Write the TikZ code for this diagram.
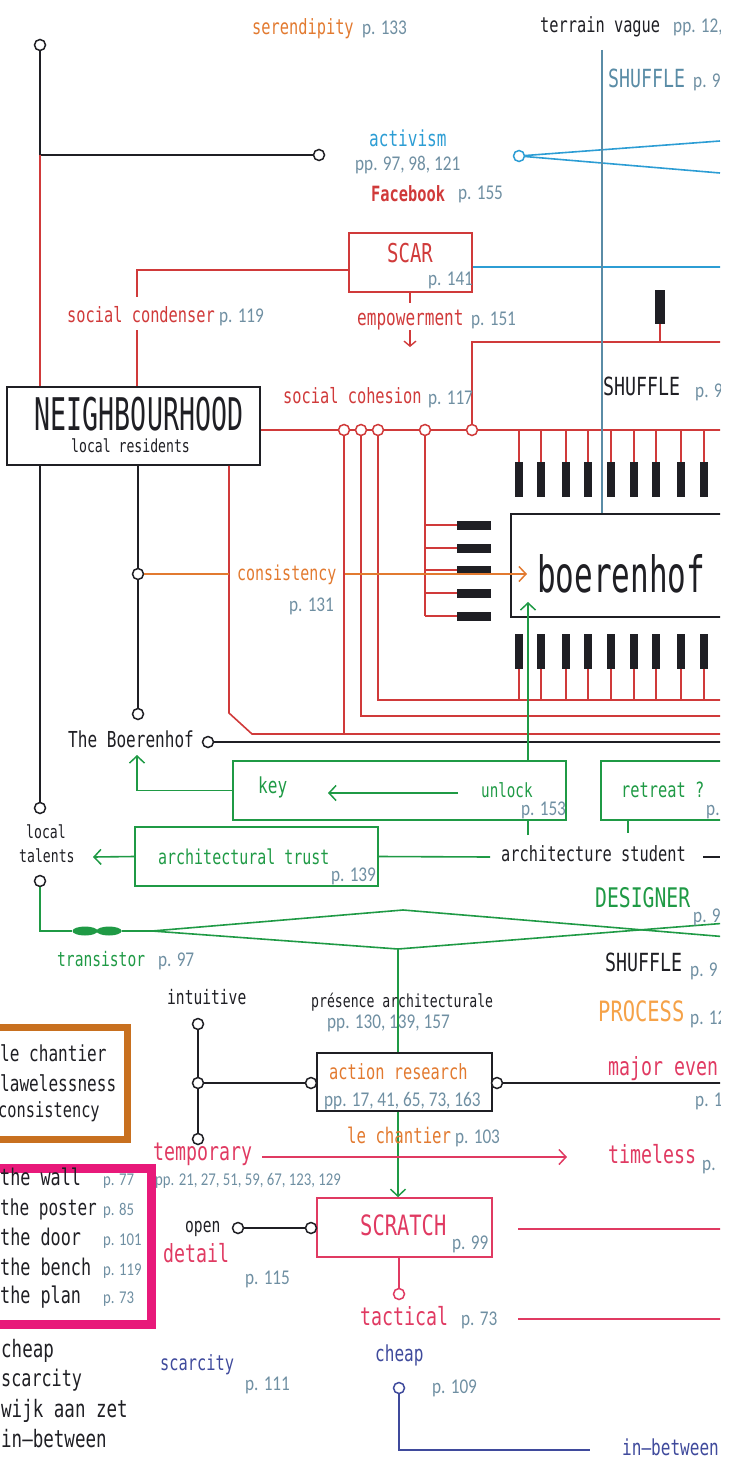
\documentclass[tikz,border=0pt]{standalone}
\usepackage{fontspec}
\usepackage{graphicx}
\setmainfont{DejaVu Sans Mono}[FakeStretch=0.73]
\newfontfamily\pgfont{Carlito}[FakeStretch=0.82]
\usetikzlibrary{arrows.meta,shapes.geometric}

\definecolor{inkc}{HTML}{1F1F24}
\definecolor{redc}{HTML}{D03A3A}
\definecolor{pinkc}{HTML}{E03A62}
\definecolor{orangec}{HTML}{E27A30}
\definecolor{procc}{HTML}{F5A248}
\definecolor{actblue}{HTML}{2C9DD4}
\definecolor{steelc}{HTML}{5A8CA6}
\definecolor{pgc}{HTML}{6F8FA2}
\definecolor{greenc}{HTML}{1F9A45}
\definecolor{navyc}{HTML}{3F4A9C}
\definecolor{boxorange}{HTML}{C8701F}
\definecolor{magentac}{HTML}{E8197A}

\tikzset{
  lbl/.style={inner sep=0pt, anchor=base west, text=inkc, font=\fontsize{#1}{#1}\selectfont},
  lbl/.default=22,
  pg/.style={inner sep=0pt, anchor=base west, text=pgc, font=\pgfont\fontsize{21}{21}\selectfont},
  pgsmall/.style={pg, font=\pgfont\fontsize{18}{18}\selectfont},
  ring/.style={circle, draw=#1, fill=white, minimum size=11pt, inner sep=0pt, line width=1.5pt},
  ring/.default=inkc,
  wire/.style={line width=1.6pt},
  boxframe/.style={draw=#1, line width=1.6pt, inner sep=0pt},
  topkey/.style={fill=inkc, inner sep=0pt, minimum width=8pt, minimum height=35pt},
  sidekey/.style={fill=inkc, inner sep=0pt, minimum width=34pt, minimum height=9pt},
  barb/.style={-{Straight Barb[length=7pt,width=15pt,line width=1.5pt]}},
}

\begin{document}
\begin{tikzpicture}[x=1pt,y=-1pt]
\useasboundingbox (0,0) rectangle (734,1463);
\clip (0,0) rectangle (720,1463);

% ---------- boxes ----------
\node[boxframe=inkc, minimum width=253pt, minimum height=78pt] (nb) at (133.5,426) {};
\node[boxframe=redc, minimum width=123pt, minimum height=59pt] (scar) at (410.5,262.5) {};
\node[boxframe=inkc, minimum width=260pt, minimum height=103pt] (bh) at (641,565.5) {};
\node[boxframe=greenc, minimum width=333pt, minimum height=59pt] (keyb) at (399.5,790.5) {};
\node[boxframe=greenc, minimum width=160pt, minimum height=59pt] (retreat) at (681,790.5) {};
\node[boxframe=greenc, minimum width=243pt, minimum height=59pt] (trust) at (256.5,856.5) {};
\node[boxframe=inkc, minimum width=175pt, minimum height=58pt] (ar) at (404.5,1082) {};
\node[boxframe=pinkc, minimum width=175pt, minimum height=59pt] (scratch) at (404.5,1227.5) {};
\node[draw=boxorange, line width=7pt, minimum width=140pt, minimum height=112pt, inner sep=0pt] (obox) at (57,1083.5) {};
\node[draw=magentac, line width=9pt, minimum width=165pt, minimum height=156pt, inner sep=0pt] (pbox) at (68.5,1246) {};

% ---------- rings ----------
\node[ring] (tl) at (40,45) {};
\node[ring] (ser) at (319,155) {};
\node[ring=actblue] (act) at (519,156) {};
\node[ring=redc] (r1) at (344,430) {};
\node[ring=redc] (r2) at (361,430) {};
\node[ring=redc] (r3) at (378,430) {};
\node[ring=redc] (r4) at (425,430) {};
\node[ring=redc] (r5) at (472,430) {};
\node[ring] (c1) at (138,574) {};
\node[ring] (tb) at (138,714) {};
\node[ring] (tbo) at (208,742) {};
\node[ring] (lt1) at (40,808) {};
\node[ring] (lt2) at (40,881) {};
\node[ring] (i1) at (198,1024) {};
\node[ring] (i2) at (198,1083) {};
\node[ring] (i3) at (198,1139) {};
\node[ring] (i4) at (311,1083) {};
\node[ring] (i5) at (497,1083) {};
\node[ring] (o1) at (238,1228) {};
\node[ring] (o2) at (311,1228) {};
\node[ring=pinkc] (t1) at (399,1294) {};
\node[ring=navyc] (ch) at (399,1388) {};

% ---------- free ends ----------
\coordinate (redEnd) at (740,430);
\coordinate (tlj) at (40,155);
\coordinate (a1) at (720,141);
\coordinate (a2) at (720,173);
\coordinate (blueEnd) at (740,267);
\coordinate (stTop) at (602,50);
\coordinate (sc1) at (137,270);
\coordinate (scg1) at (137,297);
\coordinate (scg2) at (137,330);
\coordinate (emp1) at (410,303);
\coordinate (ea1) at (410,330);
\coordinate (ea2) at (410,347);
\coordinate (r5top) at (472,342);
\coordinate (bline) at (378,700);
\coordinate (l2) at (361,716);
\coordinate (l1) at (344,734);
\coordinate (nbR) at (229,713);
\coordinate (l1bend) at (252,734);
\coordinate (cs1) at (229,574);
\coordinate (cs2) at (345,574);
\coordinate (cs3) at (527,574);
\coordinate (kArrA) at (458,793);
\coordinate (kArrB) at (328,793);
\coordinate (kup) at (137,755);
\coordinate (stu) at (528,835);
\coordinate (bhin) at (528,602);
\coordinate (rt) at (628,833);
\coordinate (trEnd) at (490,857);
\coordinate (ltArr) at (93,857);
\coordinate (dashA) at (703,857);
\coordinate (dashB) at (720,857);
\coordinate (tr0) at (40,931);
\coordinate (dj) at (152,931);
\coordinate (dtop) at (403,910);
\coordinate (dbot) at (398,949);
\coordinate (dR1) at (740,938);
\coordinate (dR2) at (740,922);
\coordinate (sl) at (518,1229);
\coordinate (tl2) at (518,1319);
\coordinate (tmA) at (262,1157);
\coordinate (tmB) at (567,1157);
\coordinate (cb) at (399,1450);
\coordinate (cbe) at (590,1450);

% ---------- top left ----------
\draw[wire,inkc] (tl) -- (tlj) -- (ser);
\draw[wire,redc] (tlj) -- (tlj |- nb.north);

% ---------- blue family ----------
\draw[wire,actblue] (act) -- (a1);
\draw[wire,actblue] (act) -- (a2);
\draw[wire,actblue] (scar.east |- blueEnd) -- (blueEnd);

% ---------- red network ----------
\draw[wire,redc] (scar.west |- sc1) -- (sc1) -- (scg1);
\draw[wire,redc] (scg2) -- (scg2 |- nb.north);
\draw[wire,redc] (scar.south -| emp1) -- (emp1);
\draw[wire,redc,-{Straight Barb[length=5pt,width=12pt,line width=1.4pt]}] (ea1) -- (ea2);
\draw[wire,redc] (nb.east |- r1) -- (r1) -- (r2) -- (r3) -- (r4) -- (r5) -- (redEnd);
\draw[wire,redc] (r5) -- (r5top) -- (r5top -| redEnd);
\node[fill=inkc, inner sep=0pt, minimum width=10pt, minimum height=34pt] (tab) at (660,307) {};
\draw[wire,redc] (tab.south) -- (tab.south |- r5top);

\foreach \x [count=\i] in {519,541,566,588,611,634,656,681,704} {
  \node[topkey] (tk\i) at (\x,479.5) {};
  \draw[wire,redc] (tk\i.north |- r1) -- (tk\i.north);
  \node[topkey] (bk\i) at (\x,651.5) {};
  \draw[wire,redc] (bk\i.south) -- (bk\i.south |- bline);
}
\foreach \y [count=\i] in {525,548,570,593,616} {
  \node[sidekey] (sk\i) at (474,\y) {};
  \draw[wire,redc] (sk\i.west -| r4) -- (sk\i.west);
}
\draw[wire,redc] (r4) -- (r4 |- sk5.west);
\draw[wire,redc] (r3) -- (r3 |- bline) -- (bline -| redEnd);
\draw[wire,redc] (r2) -- (r2 |- l2) -- (l2 -| redEnd);
\draw[wire,redc] (r1) -- (r1 |- l1);
\draw[wire,redc] (nb.south -| nbR) -- (nbR) -- (l1bend) -- (l1 -| redEnd);

% ---------- steel line ----------
\draw[wire,steelc] (stTop) -- (stTop |- bh.north);

% ---------- black verticals ----------
\draw[wire,inkc] (nb.south -| lt1) -- (lt1);
\draw[wire,inkc] (nb.south -| c1) -- (c1) -- (tb);
\draw[wire,inkc] (tbo) -- (tbo -| redEnd);

% ---------- consistency ----------
\draw[wire,orangec] (c1) -- (cs1);
\draw[wire,orangec,barb] (cs2) -- (cs3);

% ---------- green ----------
\draw[wire,greenc,barb] (kArrA) -- (kArrB);
\draw[wire,greenc,barb] (keyb.west) -- (keyb.west -| kup) -- (kup);
\draw[wire,greenc] (stu) -- (keyb.south -| stu);
\draw[wire,greenc,barb] (keyb.north -| stu) -- (bhin);
\draw[wire,greenc] (retreat.south -| rt) -- (rt);
\draw[wire,greenc] (trust.east) -- (trEnd);
\draw[wire,greenc,barb] (trust.west) -- (ltArr);
\draw[wire,inkc] (dashA) -- (dashB);
\node[ellipse, fill=greenc, inner sep=0pt, minimum width=25pt, minimum height=9pt] (e1) at (85,931) {};
\node[ellipse, fill=greenc, inner sep=0pt, minimum width=25pt, minimum height=9pt] (e2) at (109,931) {};
\draw[wire,greenc] (lt2) -- (tr0) -- (e1);
\draw[wire,greenc] (e2) -- (dj) -- (dtop) -- (dR1);
\draw[wire,greenc] (dj) -- (dbot) -- (dR2);
\draw[wire,greenc] (dbot) -- (dbot |- ar.north);
\draw[wire,greenc,barb] (ar.south -| dbot) -- (scratch.north -| dbot);

% ---------- process ----------
\draw[wire,inkc] (i1) -- (i2) -- (i3);
\draw[wire,inkc] (i2) -- (i4);
\draw[wire,inkc] (i5) -- (i5 -| redEnd);
\draw[wire,inkc] (o1) -- (o2);
\draw[wire,pinkc] (sl) -- (sl -| redEnd);
\draw[wire,pinkc] (scratch.south -| t1) -- (t1);
\draw[wire,pinkc] (tl2) -- (tl2 -| redEnd);
\draw[wire,pinkc,barb] (tmA) -- (tmB);
\draw[wire,navyc] (ch) -- (cb) -- (cbe);

% ---------- labels ----------
\node[lbl=21, text=orangec] (t01) at (252,35) {serendipity};
\node[pg] (p01) at (362,35) {p. 133};
\node[lbl=21] (t02) at (540,33) {terrain vague};
\node[pg] (p02) at (673,33) {pp. 12,};
\node[lbl=25, text=steelc] (t03) at (608,88) {SHUFFLE};
\node[pg] (p03) at (693,88) {p. 9};
\node[lbl=22, text=actblue] (t04) at (369,147) {activism};
\node[pg] (p04) at (355,171) {pp. 97, 98, 121};
\node[lbl=21, text=redc, font=\fontsize{21}{21}\selectfont\bfseries] (t05) at (371,202) {Facebook};
\node[pg] (p05) at (458,200) {p. 155};
\node[lbl=26, text=redc] (t06) at (387,262) {SCAR};
\node[pg] (p06) at (428,285) {p. 141};
\node[lbl=21, text=redc] (t07) at (67,322) {social condenser};
\node[pg] (p07) at (219,322) {p. 119};
\node[lbl=22, text=redc] (t08) at (357,325) {empowerment};
\node[pg] (p08) at (471,325) {p. 151};
\node[lbl=25] (t09) at (603,395) {SHUFFLE};
\node[pg] (p09) at (695,397) {p. 9};
\node[lbl=21, text=redc] (t10) at (283,403) {social cohesion};
\node[pg] (p10) at (428,404) {p. 117};
\node[inner sep=0pt, anchor=base, text=inkc, font=\fontsize{45}{45}\selectfont] (t11) at (139,430) {\scalebox{0.81}[1]{NEIGHBOURHOOD}};
\node[lbl=18] (t12) at (71,452) {local residents};
\node[inner sep=0pt, anchor=base west, text=inkc, font=\fontsize{50}{50}\selectfont] (t13) at (537,592) {\scalebox{0.85}[1]{boerenhof}};
\node[lbl=20.5, text=orangec] (t14) at (237,580) {consistency};
\node[pg] (p14) at (289,611) {p. 131};
\node[lbl=22] (t15) at (68,747) {The Boerenhof};
\node[lbl=22, text=greenc] (t16) at (258,793) {key};
\node[lbl=19.5, text=greenc] (t17) at (481,797) {unlock};
\node[pg] (p17) at (521,815) {p. 153};
\node[lbl=21, text=greenc] (t18) at (621,797) {retreat ?};
\node[pg] (p18) at (706,815) {p.};
\node[lbl=21] (t19) at (501,861) {architecture student};
\node[lbl=20.5, text=greenc] (t20) at (158,864) {architectural trust};
\node[pg] (p20) at (331,881) {p. 139};
\node[lbl=18] (t21) at (26,838) {local};
\node[lbl=18] (t22) at (19,862) {talents};
\node[lbl=20, text=greenc] (t23) at (57,966) {transistor};
\node[pg] (p23) at (158,966) {p. 97};
\node[lbl=27, text=greenc] (t24) at (595,907) {DESIGNER};
\node[pg] (p24) at (693,922) {p. 9};
\node[lbl=25] (t25) at (605,971) {SHUFFLE};
\node[pg] (p25) at (690,976) {p. 9};
\node[lbl=20] (t26) at (167,1004) {intuitive};
\node[lbl=18] (t27) at (311,1007) {présence architecturale};
\node[pg] (p27) at (327,1028) {pp. 130, 139, 157};
\node[lbl=28, text=procc] (t28) at (598,1021) {PROCESS};
\node[pg] (p28) at (690,1024) {p. 12};
\node[lbl=21, text=orangec] (t29) at (329,1079) {action research};
\node[pg] (p29) at (324,1106) {pp. 17, 41, 65, 73, 163};
\node[lbl=25, text=pinkc] (t30) at (608,1075) {major even};
\node[pg] (p30) at (695,1106) {p. 1};
\node[lbl=21.5, text=orangec] (t31) at (347,1143) {le chantier};
\node[pg] (p31) at (455,1143) {p. 103};
\node[lbl=25, text=pinkc] (t32) at (153,1160) {temporary};
\node[pgsmall] (p32) at (155,1185) {pp. 21, 27, 51, 59, 67, 123, 129};
\node[lbl=25, text=pinkc] (t33) at (608,1163) {timeless};
\node[pg] (p33) at (702,1170) {p.};
\node[lbl=28, text=pinkc] (t34) at (360,1235) {SCRATCH};
\node[pg] (p34) at (452,1249) {p. 99};
\node[lbl=20] (t35) at (185,1232) {open};
\node[lbl=25, text=pinkc] (t36) at (163,1262) {detail};
\node[pg] (p36) at (245,1284) {p. 115};
\node[lbl=25, text=pinkc] (t37) at (360,1325) {tactical};
\node[pg] (p37) at (461,1325) {p. 73};
\node[lbl=22, text=navyc] (t38) at (375,1361) {cheap};
\node[pg] (p38) at (432,1393) {p. 109};
\node[lbl=21, text=navyc] (t39) at (160,1370) {scarcity};
\node[pg] (p39) at (245,1390) {p. 111};
\node[lbl=22, text=navyc] (t40) at (622,1455) {in—between};

% left-hand lists
\node[lbl=22] (u01) at (0,1061) {le chantier};
\node[lbl=22] (u02) at (0,1091) {lawelessness};
\node[lbl=21] (u03) at (-2,1117) {consistency};
\node[lbl=23] (u04) at (0,1185) {the wall};
\node[pgsmall] (q04) at (103,1185) {p. 77};
\node[lbl=22] (u05) at (0,1215) {the poster};
\node[pgsmall] (q05) at (103,1215) {p. 85};
\node[lbl=23] (u06) at (0,1245) {the door};
\node[pgsmall] (q06) at (103,1245) {p. 101};
\node[lbl=23] (u07) at (0,1275) {the bench};
\node[pgsmall] (q07) at (103,1275) {p. 119};
\node[lbl=23] (u08) at (0,1303) {the plan};
\node[pgsmall] (q08) at (103,1303) {p. 73};
\node[lbl=24] (u09) at (1,1357) {cheap};
\node[lbl=23] (u10) at (1,1386) {scarcity};
\node[lbl=24] (u11) at (1,1417) {wijk aan zet};
\node[lbl=24] (u12) at (1,1447) {in—between};
\end{tikzpicture}
\end{document}
